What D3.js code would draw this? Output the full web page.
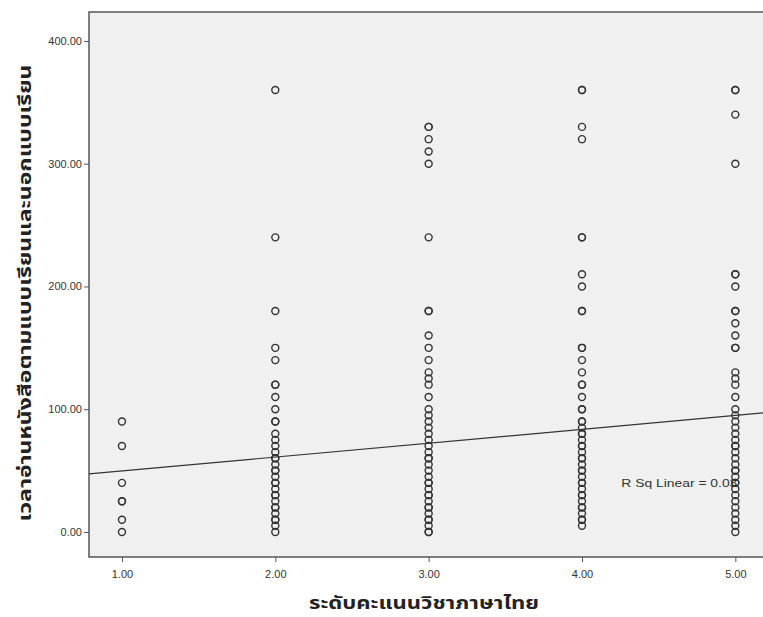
<!DOCTYPE html>
<html><head><meta charset="utf-8">
<script src="https://cdn.jsdelivr.net/npm/d3@7"></script>
<style>body{margin:0;background:#fff}svg{display:block}</style>
</head><body><div id="chart"></div>
<script>
const xTicks = [1, 2, 3, 4, 5];
const yTicks = [0, 100, 200, 300, 400];
const xLabel = "ระดับคะแนนวิชาภาษาไทย";
const yLabel = "เวลาอ่านหนังสือตามแบบเรียนและนอกแบบเรียน";
const fitLabel = "R Sq Linear = 0.03";
const fitIntercept = 38.4;
const fitSlope = 11.3;
const level1 = [90, 70, 40, 25, 25, 10, 0];
const level2 = [360, 240, 180, 150, 140, 120, 120, 110, 100, 90, 90, 80, 75, 70, 65, 60, 60, 55, 50, 50, 45, 40, 40, 35, 30, 30, 25, 20, 20, 15, 10, 10, 5, 0];
const level3 = [330, 330, 320, 310, 300, 240, 180, 180, 160, 150, 140, 130, 125, 120, 110, 100, 95, 90, 85, 80, 75, 70, 65, 60, 60, 55, 50, 45, 40, 40, 35, 30, 30, 25, 20, 20, 15, 10, 10, 5, 0, 0];
const level4 = [360, 360, 330, 320, 240, 240, 210, 200, 180, 180, 150, 150, 140, 130, 120, 120, 110, 100, 100, 90, 90, 85, 80, 80, 75, 70, 70, 65, 60, 60, 55, 50, 50, 45, 40, 40, 35, 30, 30, 25, 20, 20, 15, 10, 10, 5];
const level5 = [360, 360, 340, 300, 210, 210, 200, 180, 180, 170, 160, 150, 150, 130, 125, 120, 110, 100, 95, 90, 85, 80, 75, 70, 70, 65, 60, 55, 50, 50, 45, 40, 40, 35, 30, 25, 20, 15, 10, 5, 0];

const levels = [level1, level2, level3, level4, level5];
const points = [];
levels.forEach((arr, i) => arr.forEach(v => points.push({x: xTicks[i], y: v})));

const W = 763, H = 617;
const mLeft = 89, mTop = 12, mRight = 766, mBottom = 557;
const svg = d3.select("#chart").append("svg").attr("width", W).attr("height", H);

const x = d3.scaleLinear().domain([0.785, 5.2]).range([mLeft, mRight]);
const y = d3.scaleLinear().domain([-20.4, 423.6]).range([mBottom, mTop]);

svg.append("rect").attr("x", mLeft).attr("y", mTop).attr("width", mRight - mLeft).attr("height", mBottom - mTop)
  .attr("fill", "#f0f0f0").attr("stroke", "#555").attr("stroke-width", 1.5);

const fontAxis = "'Liberation Sans', Arial, sans-serif";

const yAxis = d3.axisLeft(y).tickValues(yTicks).tickFormat(d3.format(".2f")).tickSize(5).tickPadding(2);
const gy = svg.append("g").attr("transform", `translate(${mLeft},0)`).call(yAxis);
gy.select(".domain").remove();
gy.selectAll("line").attr("stroke", "#555");
gy.selectAll("text").attr("font-family", fontAxis).attr("font-size", 11).attr("fill", "#333");

const xAxis = d3.axisBottom(x).tickValues(xTicks).tickFormat(d3.format(".2f")).tickSize(5).tickPadding(8);
const gx = svg.append("g").attr("transform", `translate(0,${mBottom})`).call(xAxis);
gx.select(".domain").remove();
gx.selectAll("line").attr("stroke", "#555");
gx.selectAll("text").attr("font-family", fontAxis).attr("font-size", 11).attr("fill", "#333");

svg.append("clipPath").attr("id", "plotclip").append("rect")
  .attr("x", mLeft).attr("y", mTop).attr("width", mRight - mLeft).attr("height", mBottom - mTop);

svg.append("text").attr("x", x(5) + 2).attr("y", y(40) + 4).attr("text-anchor", "end")
  .attr("font-family", fontAxis).attr("font-size", 11).attr("fill", "#333")
  .attr("textLength", 116).attr("lengthAdjust", "spacingAndGlyphs").text(fitLabel);

const x0 = x.domain()[0], x1 = x.domain()[1];
svg.append("line").attr("clip-path", "url(#plotclip)")
  .attr("x1", x(x0)).attr("y1", y(fitIntercept + fitSlope * x0))
  .attr("x2", x(x1)).attr("y2", y(fitIntercept + fitSlope * x1))
  .attr("stroke", "#333").attr("stroke-width", 1.2);

svg.append("g").selectAll("circle").data(points).join("circle")
  .attr("cx", d => x(d.x)).attr("cy", d => y(d.y)).attr("r", 3.5)
  .attr("fill", "none").attr("stroke", "#333").attr("stroke-width", 1.4);

svg.append("text").attr("x", 424).attr("y", 609).attr("text-anchor", "middle")
  .attr("font-family", "'Noto Sans Thai','Noto Sans','DejaVu Sans',sans-serif").attr("font-weight", "bold")
  .attr("font-size", 17).attr("fill", "#222")
  .attr("textLength", 230).attr("lengthAdjust", "spacingAndGlyphs").text(xLabel);

svg.append("text").attr("transform", "translate(31,293) rotate(-90)").attr("text-anchor", "middle")
  .attr("font-family", "'Noto Sans Thai','Noto Sans','DejaVu Sans',sans-serif").attr("font-weight", "bold")
  .attr("font-size", 18).attr("fill", "#222")
  .attr("textLength", 457).attr("lengthAdjust", "spacingAndGlyphs").text(yLabel);
</script></body></html>
